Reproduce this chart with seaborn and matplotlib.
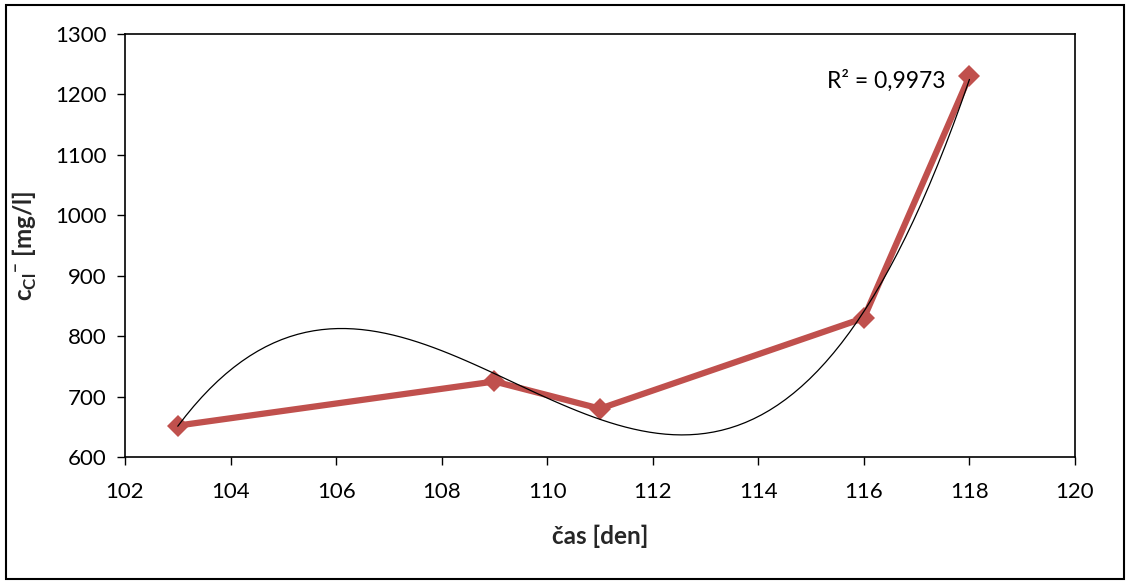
import matplotlib
matplotlib.use("Agg")
import matplotlib.pyplot as plt
import seaborn as sns
import pandas as pd
from matplotlib.patches import Rectangle

days = [103, 109, 111, 116, 118]
chloride = [652, 725, 680, 830, 1230]
x_ticks = [102, 104, 106, 108, 110, 112, 114, 116, 118, 120]
y_ticks = [600, 700, 800, 900, 1000, 1100, 1200, 1300]
r2_label = "R² = 0,9973"

sns.set_theme(style="white")
plt.rcParams['font.family'] = ['Lato', 'DejaVu Sans']
plt.rcParams['mathtext.fontset'] = 'custom'
plt.rcParams['mathtext.rm'] = 'Lato'
plt.rcParams['mathtext.bf'] = 'Lato:bold'

df = pd.DataFrame({"day": days, "cl": chloride})

fig = plt.figure(figsize=(11.26, 5.81), dpi=100)
ax = fig.add_axes([0.111, 0.2134, 0.8437, 0.7281])

red = "#C0504D"
sns.lineplot(data=df, x="day", y="cl", ax=ax, color=red, linewidth=4.5,
             marker="D", markersize=11.5, markeredgewidth=0, zorder=2)
sns.regplot(data=df, x="day", y="cl", ax=ax, order=3, ci=None, scatter=False,
            truncate=True, line_kws=dict(color="black", linewidth=0.9, zorder=3))

ax.set_xlim(102, 120)
ax.set_ylim(600, 1300)
ax.set_xticks(x_ticks)
ax.set_yticks(y_ticks)
ax.tick_params(axis="both", which="major", direction="out", length=6, width=1,
               color="black", labelsize=16, labelcolor="black", left=True, bottom=True,
               pad=7)
ax.tick_params(axis="x", pad=12)
for s in ax.spines.values():
    s.set_visible(True)
    s.set_color("black")
    s.set_linewidth(1.2)

ax.set_xlabel("čas [den]", fontsize=17.5, fontweight="bold", labelpad=16)
ax.set_ylabel(r"c$_{\mathbf{Cl}}$$^{\mathbf{-}}$ [mg/l]", fontsize=17.5, fontweight="bold", labelpad=12)

ax.text(117.55, 1222, r2_label, ha="right", va="center", fontsize=16.5, color="black")

fig.patches.append(Rectangle((0.005, 0.004), 0.993, 0.988, transform=fig.transFigure,
                             fill=False, edgecolor="black", linewidth=1.5))

fig.savefig("out.png", dpi=100)
